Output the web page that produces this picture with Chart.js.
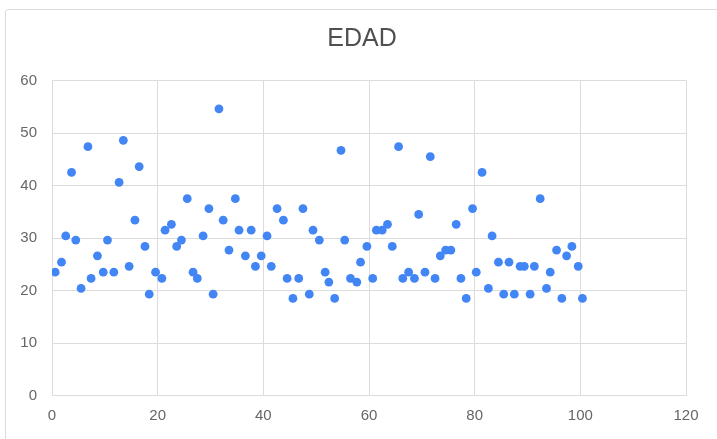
<!DOCTYPE html>
<html>
<head>
<meta charset="utf-8">
<title>EDAD</title>
<script src="https://cdn.jsdelivr.net/npm/chart.js@4/dist/chart.umd.min.js"></script>
<style>
    html, body { margin: 0; padding: 0; background: #fff; overflow: hidden; }
    #frame {
        position: absolute; left: 5px; top: 9px; width: 730px; height: 450px;
        border: 1px solid #dcdcdc; border-radius: 3px; box-sizing: border-box;
    }
    #wrap { position: absolute; left: 0; top: 0; width: 717px; height: 439px; }
</style>
</head>
<body>
<div id="frame"></div>
<div id="wrap"><canvas id="scatterChart"></canvas></div>
<script>
// Posición x de cada punto
const posiciones = [
    0.6, 1.8, 2.6, 3.7, 4.5, 5.5, 6.8, 7.4, 8.6, 9.7,
    10.5, 11.7, 12.7, 13.5, 14.6, 15.7, 16.5, 17.6, 18.4, 19.6,
    20.8, 21.4, 22.6, 23.6, 24.5, 25.6, 26.7, 27.5, 28.6, 29.7,
    30.5, 31.6, 32.4, 33.5, 34.7, 35.4, 36.6, 37.7, 38.5, 39.6,
    40.7, 41.5, 42.6, 43.8, 44.5, 45.6, 46.7, 47.5, 48.7, 49.4,
    50.6, 51.7, 52.4, 53.5, 54.7, 55.4, 56.5, 57.7, 58.4, 59.6,
    60.7, 61.4, 62.5, 63.5, 64.4, 65.6, 66.4, 67.5, 68.6, 69.4,
    70.6, 71.6, 72.5, 73.5, 74.5, 75.5, 76.5, 77.4, 78.4, 79.6,
    80.3, 81.4, 82.6, 83.3, 84.5, 85.5, 86.5, 87.5, 88.6, 89.4,
    90.5, 91.3, 92.4, 93.6, 94.3, 95.5, 96.5, 97.4, 98.4, 99.6,
    100.4
];

// Edad de cada punto
const edades = [
    23.5, 25.4, 30.4, 42.5, 29.6, 20.4, 47.4, 22.3, 26.6, 23.5,
    29.6, 23.5, 40.6, 48.6, 24.6, 33.4, 43.6, 28.4, 19.3, 23.5,
    22.3, 31.5, 32.6, 28.4, 29.6, 37.5, 23.5, 22.3, 30.4, 35.6,
    19.3, 54.6, 33.4, 27.7, 37.5, 31.5, 26.6, 31.5, 24.6, 26.6,
    30.4, 24.6, 35.6, 33.4, 22.3, 18.5, 22.3, 35.6, 19.3, 31.5,
    29.6, 23.5, 21.6, 18.5, 46.7, 29.6, 22.3, 21.6, 25.4, 28.4,
    22.3, 31.5, 31.5, 32.6, 28.4, 47.4, 22.3, 23.5, 22.3, 34.5,
    23.5, 45.5, 22.3, 26.6, 27.7, 27.7, 32.6, 22.3, 18.5, 35.6,
    23.5, 42.5, 20.4, 30.4, 25.4, 19.3, 25.4, 19.3, 24.6, 24.6,
    19.3, 24.6, 37.5, 20.4, 23.5, 27.7, 18.5, 26.6, 28.4, 24.6,
    18.5
];

const xTicks = [0, 20, 40, 60, 80, 100, 120];
const yTicks = [0, 10, 20, 30, 40, 50, 60];

document.addEventListener('DOMContentLoaded', function() {
    Chart.defaults.font.family = "'Liberation Sans', Arial, sans-serif";
    Chart.defaults.font.size = 15;
    Chart.defaults.color = '#666';

    const ctx = document.getElementById('scatterChart');
    new Chart(ctx, {
        type: 'scatter',
        data: {
            datasets: [{
                label: 'EDAD',
                data: posiciones.map((x, i) => ({ x: x, y: edades[i] })),
                backgroundColor: '#4285f4',
                borderWidth: 0,
                pointRadius: 4.4,
                pointHoverRadius: 4.4
            }]
        },
        options: {
            responsive: true,
            maintainAspectRatio: false,
            animation: false,
            layout: {
                padding: { left: 7, right: 0, top: 0, bottom: 0 }
            },
            plugins: {
                legend: { display: false },
                tooltip: { enabled: false },
                title: {
                    display: true,
                    text: 'EDAD',
                    color: '#505050',
                    font: { size: 25, weight: 'normal' },
                    padding: { top: 24.5, bottom: 26 }
                }
            },
            scales: {
                x: {
                    type: 'linear',
                    min: xTicks[0],
                    max: xTicks[xTicks.length - 1],
                    afterBuildTicks: function(scale) {
                        scale.ticks = xTicks.map(v => ({ value: v }));
                    },
                    afterFit: function(scale) { scale.height = 43.5; },
                    grid: { color: '#dcdcdc', drawTicks: false },
                    border: { color: '#dcdcdc' },
                    ticks: { padding: 11, maxRotation: 0 }
                },
                y: {
                    min: yTicks[0],
                    max: yTicks[yTicks.length - 1],
                    afterBuildTicks: function(scale) {
                        scale.ticks = yTicks.map(v => ({ value: v }));
                    },
                    afterFit: function(scale) { scale.width = 45; },
                    grid: { color: '#dcdcdc', drawTicks: false },
                    border: { color: '#dcdcdc' },
                    ticks: { padding: 15 }
                },
                // eje vacío a la derecha, solo para reservar el margen
                yDer: {
                    position: 'right',
                    grid: { display: false, drawTicks: false },
                    border: { display: false },
                    ticks: { display: false },
                    afterFit: function(scale) { scale.width = 31; }
                }
            }
        }
    });
});
</script>
</body>
</html>
